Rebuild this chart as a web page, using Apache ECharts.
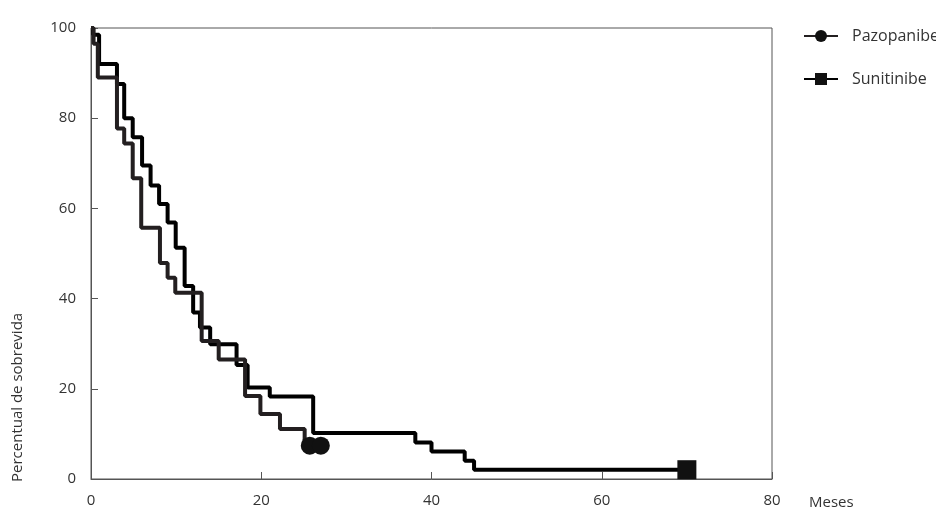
<!DOCTYPE html>
<html>
<head>
<meta charset="utf-8">
<script src="https://cdn.jsdelivr.net/npm/echarts@6/dist/echarts.min.js"></script>
<style>
html,body{margin:0;padding:0;background:#fff;}
#chart{width:936px;height:510px;}
</style>
</head>
<body>
<div id="chart"></div>
<script>
// Kaplan-Meier step data (months, survival %)
const seriesNames = ['Pazopanibe', 'Sunitinibe'];
const pazTime = [0, 0.3, 0.8, 3.05, 3.9, 4.9, 5.9, 8.1, 9.0, 9.9, 13.0, 15.0, 18.1, 19.9, 22.2, 25.1, 25.7, 27.0];
const pazSurv = [100, 96.5, 89, 77.7, 74.4, 66.7, 55.7, 47.9, 44.6, 41.3, 30.6, 26.5, 18.4, 14.4, 11.1, 7.4, 7.4, 7.4];
const pazCensored = [25.7, 27.0];
const sunTime = [0, 0.25, 0.95, 3.05, 3.9, 4.9, 6.0, 7.0, 8.0, 9.0, 9.95, 11.0, 12.0, 12.8, 14.0, 17.1, 18.4, 21.0, 26.1, 38.1, 40.0, 43.9, 45.0, 70.0];
const sunSurv = [100, 98.5, 92, 87.6, 80, 75.8, 69.5, 65.1, 61.0, 56.9, 51.3, 42.8, 36.9, 33.6, 29.9, 25.3, 20.3, 18.3, 10.2, 8.1, 6.1, 4.05, 2.06, 2.06];
const sunCensored = [70.0];
const xTicks = [0, 20, 40, 60, 80];
const yTicks = [0, 20, 40, 60, 80, 100];
const xAxisTitle = 'Meses';
const yAxisTitle = 'Percentual de sobrevida';

function build(times, surv, censored) {
  return times.map((t, i) => {
    const item = { value: [t, surv[i]] };
    if (censored.indexOf(t) < 0) item.symbol = 'none';
    return item;
  });
}

const FONT = '"Open Sans", "Noto Sans", sans-serif';
const chart = echarts.init(document.getElementById('chart'), null, { renderer: 'canvas' });
chart.setOption({
  animation: false,
  backgroundColor: '#fff',
  grid: { left: 91, right: 164, top: 28, bottom: 30, show: true, borderColor: '#555', borderWidth: 1 },
  legend: {
    orient: 'vertical', left: 798, top: 23,
    itemWidth: 34, itemHeight: 15, itemGap: 27,
    data: seriesNames,
    textStyle: { fontFamily: FONT, fontSize: 16, color: '#333', padding: [0, 0, 0, 9] },
    lineStyle: { width: 2 }
  },
  xAxis: {
    type: 'value', min: 0, max: 80, interval: 20,
    name: xAxisTitle, nameLocation: 'end', nameGap: 37,
    nameTextStyle: { fontFamily: FONT, fontSize: 15, color: '#333', verticalAlign: 'top', padding: [16, 0, 0, 0] },
    axisLine: { show: true, lineStyle: { color: '#555', width: 1 } },
    axisTick: { show: true, inside: true, length: 7, lineStyle: { color: '#555' } },
    axisLabel: { fontFamily: FONT, fontSize: 15, color: '#333', margin: 14,
      formatter: v => xTicks.indexOf(v) >= 0 ? String(v) : '' },
    splitLine: { show: false }
  },
  yAxis: {
    type: 'value', min: 0, max: 100, interval: 20,
    axisLine: { show: true, lineStyle: { color: '#555', width: 1 } },
    axisTick: { show: true, inside: true, length: 7, lineStyle: { color: '#555' } },
    axisLabel: { fontFamily: FONT, fontSize: 15, color: '#333', margin: 15,
      formatter: v => yTicks.indexOf(v) >= 0 ? String(v) : '' },
    splitLine: { show: false }
  },
  graphic: [{
    type: 'text', x: 18, y: 482, rotation: Math.PI / 2,
    style: { text: yAxisTitle, fontFamily: FONT, fontSize: 15, fill: '#333', textAlign: 'left', textVerticalAlign: 'middle' }
  }],
  series: [
    {
      name: seriesNames[0], type: 'line', step: 'end',
      data: build(pazTime, pazSurv, pazCensored),
      symbol: 'circle', symbolSize: 18, showSymbol: true,
      lineStyle: { color: '#231f20', width: 4 },
      itemStyle: { color: '#111' },
      z: 3
    },
    {
      name: seriesNames[1], type: 'line', step: 'end',
      data: build(sunTime, sunSurv, sunCensored),
      symbol: 'rect', symbolSize: 19, showSymbol: true,
      lineStyle: { color: '#000', width: 4 },
      itemStyle: { color: '#111' },
      z: 2
    }
  ]
});
</script>
</body>
</html>
